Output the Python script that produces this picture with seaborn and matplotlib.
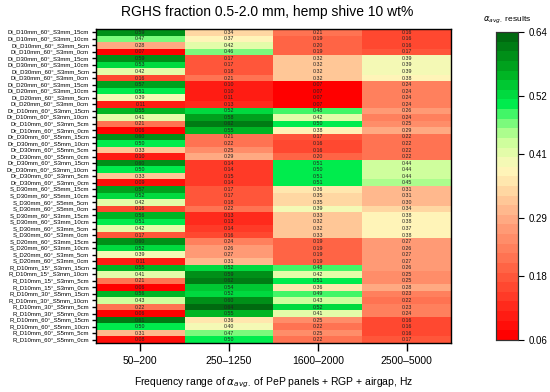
import numpy as np
import pandas as pd
import matplotlib
matplotlib.use("Agg")
import matplotlib.pyplot as plt
from matplotlib.colors import LinearSegmentedColormap, ListedColormap
import seaborn as sns

rows = [
    "Di_D10mm_60°_S3mm_15cm", "Di_D10mm_60°_S3mm_10cm", "Di_D10mm_60°_S3mm_5cm", "Di_D10mm_60°_S3mm_0cm",
    "Di_D30mm_60°_S3mm_15cm", "Di_D30mm_60°_S3mm_10cm", "Di_D30mm_60°_S3mm_5cm", "Di_D30mm_60°_S3mm_0cm",
    "Di_D20mm_60°_S3mm_15cm", "Di_D20mm_60°_S3mm_10cm", "Di_D20mm_60°_S3mm_5cm", "Di_D20mm_60°_S3mm_0cm",
    "Dr_D10mm_60°_S3mm_15cm", "Dr_D10mm_60°_S3mm_10cm", "Dr_D10mm_60°_S3mm_5cm", "Dr_D10mm_60°_S3mm_0cm",
    "Dr_D30mm_60°_S5mm_15cm", "Dr_D30mm_60°_S5mm_10cm", "Dr_D30mm_60°_S5mm_5cm", "Dr_D30mm_60°_S5mm_0cm",
    "Dr_D30mm_60°_S3mm_15cm", "Dr_D30mm_60°_S3mm_10cm", "Dr_D30mm_60°_S3mm_5cm", "Dr_D30mm_60°_S3mm_0cm",
    "S_D30mm_60°_S5mm_15cm", "S_D30mm_60°_S5mm_10cm", "S_D30mm_60°_S5mm_5cm", "S_D30mm_60°_S5mm_0cm",
    "S_D30mm_60°_S3mm_15cm", "S_D30mm_60°_S3mm_10cm", "S_D30mm_60°_S3mm_5cm", "S_D30mm_60°_S3mm_0cm",
    "S_D20mm_60°_S3mm_15cm", "S_D20mm_60°_S3mm_10cm", "S_D20mm_60°_S3mm_5cm", "S_D20mm_60°_S3mm_0cm",
    "R_D10mm_15°_S3mm_15cm", "R_D10mm_15°_S3mm_10cm", "R_D10mm_15°_S3mm_5cm", "R_D10mm_15°_S3mm_0cm",
    "R_D10mm_30°_S5mm_15cm", "R_D10mm_30°_S5mm_10cm", "R_D10mm_30°_S5mm_5cm", "R_D10mm_30°_S5mm_0cm",
    "R_D10mm_60°_S5mm_15cm", "R_D10mm_60°_S5mm_10cm", "R_D10mm_60°_S5mm_5cm", "R_D10mm_60°_S5mm_0cm",
]
freq_ranges = ["50–200", "250–1250", "1600–2000", "2500–5000"]

f_50_200 = [0.59, 0.47, 0.28, 0.07, 0.59, 0.53, 0.42, 0.16, 0.57, 0.51, 0.39, 0.11,
            0.55, 0.41, 0.21, 0.06, 0.60, 0.50, 0.33, 0.10, 0.60, 0.50, 0.33, 0.09,
            0.57, 0.52, 0.42, 0.16, 0.56, 0.51, 0.42, 0.17, 0.60, 0.52, 0.39, 0.11,
            0.55, 0.41, 0.21, 0.06, 0.56, 0.43, 0.22, 0.06, 0.61, 0.50, 0.31, 0.08]
f_250_1250 = [0.34, 0.37, 0.42, 0.46, 0.17, 0.17, 0.18, 0.21, 0.10, 0.10, 0.11, 0.13,
              0.52, 0.58, 0.62, 0.55, 0.21, 0.22, 0.25, 0.29, 0.14, 0.14, 0.15, 0.14,
              0.17, 0.17, 0.18, 0.22, 0.13, 0.13, 0.14, 0.16, 0.24, 0.26, 0.27, 0.31,
              0.52, 0.59, 0.62, 0.54, 0.52, 0.60, 0.64, 0.55, 0.36, 0.40, 0.47, 0.50]
f_1600_2000 = [0.21, 0.19, 0.20, 0.19, 0.32, 0.32, 0.32, 0.32, 0.07, 0.07, 0.07, 0.07,
               0.48, 0.42, 0.50, 0.38, 0.17, 0.16, 0.16, 0.20, 0.51, 0.50, 0.51, 0.51,
               0.36, 0.35, 0.35, 0.39, 0.33, 0.32, 0.32, 0.33, 0.19, 0.19, 0.19, 0.19,
               0.48, 0.42, 0.51, 0.36, 0.49, 0.43, 0.52, 0.41, 0.25, 0.22, 0.25, 0.22]
f_2500_5000 = [0.16, 0.16, 0.16, 0.17, 0.39, 0.39, 0.39, 0.38, 0.24, 0.24, 0.24, 0.24,
               0.26, 0.24, 0.25, 0.29, 0.22, 0.22, 0.22, 0.22, 0.44, 0.44, 0.44, 0.45,
               0.31, 0.31, 0.30, 0.34, 0.38, 0.38, 0.37, 0.38, 0.27, 0.26, 0.27, 0.27,
               0.26, 0.25, 0.25, 0.28, 0.23, 0.22, 0.23, 0.24, 0.16, 0.16, 0.16, 0.17]
cbar_ticks = [0.06, 0.18, 0.29, 0.41, 0.52, 0.64]

df = pd.DataFrame({freq_ranges[0]: f_50_200, freq_ranges[1]: f_250_1250,
                   freq_ranges[2]: f_1600_2000, freq_ranges[3]: f_2500_5000}, index=rows)

plt.rcParams['font.family'] = ['Liberation Sans', 'DejaVu Sans']

base = LinearSegmentedColormap.from_list("rg", [
    (0.00, "#FF0000"),
    (0.20, "#FF5A3C"),
    (0.40, "#FFAE86"),
    (0.50, "#FFE0A8"),
    (0.56, "#FFF8BC"),
    (0.66, "#C8FF98"),
    (0.73, "#5CF870"),
    (0.77, "#00F050"),
    (0.88, "#00B020"),
    (1.00, "#006A10"),
])
cmap = ListedColormap(base(np.linspace(0, 1, 32)))

fig = plt.figure(figsize=(5.5, 3.92), dpi=100)
ax = fig.add_axes([0.1745, 0.125, 0.6455, 0.801])
cax = fig.add_axes([0.902, 0.133, 0.040, 0.785])

sns.heatmap(df, ax=ax, cbar_ax=cax, cmap=cmap, vmin=0.06, vmax=0.64,
            annot=True, fmt=".2f", annot_kws={"fontsize": 3.8, "color": "#222222"},
            cbar_kws={"ticks": cbar_ticks})

for s in ax.spines.values():
    s.set_visible(True)
    s.set_color("black")
    s.set_linewidth(1.0)

ax.set_yticks(np.arange(len(rows)) + 0.5)
ax.set_yticklabels(rows, fontsize=4.3, rotation=0)
ax.set_xticklabels(freq_ranges, fontsize=7.5, rotation=0)
ax.tick_params(axis='y', length=3, width=1, pad=2, colors='black')
ax.tick_params(axis='x', length=6, width=1, pad=3)
ax.set_xlabel("Frequency range of $\\alpha_{avg.}$ of PeP panels + RGP + airgap, Hz", fontsize=7.5, labelpad=7)
ax.set_ylabel("")

fig.suptitle("RGHS fraction 0.5-2.0 mm, hemp shive 10 wt%", fontsize=10, x=0.485, y=0.988)

cax.tick_params(labelsize=7, length=4, width=0.8)
cax.set_yticklabels([f"{t:.2f}" for t in cbar_ticks])
for s in cax.spines.values():
    s.set_visible(True)
    s.set_color("#333333")
    s.set_linewidth(0.8)
cax.set_title("$\\alpha_{avg.}$ results", fontsize=6, pad=8)

fig.savefig("out.png", dpi=100)
